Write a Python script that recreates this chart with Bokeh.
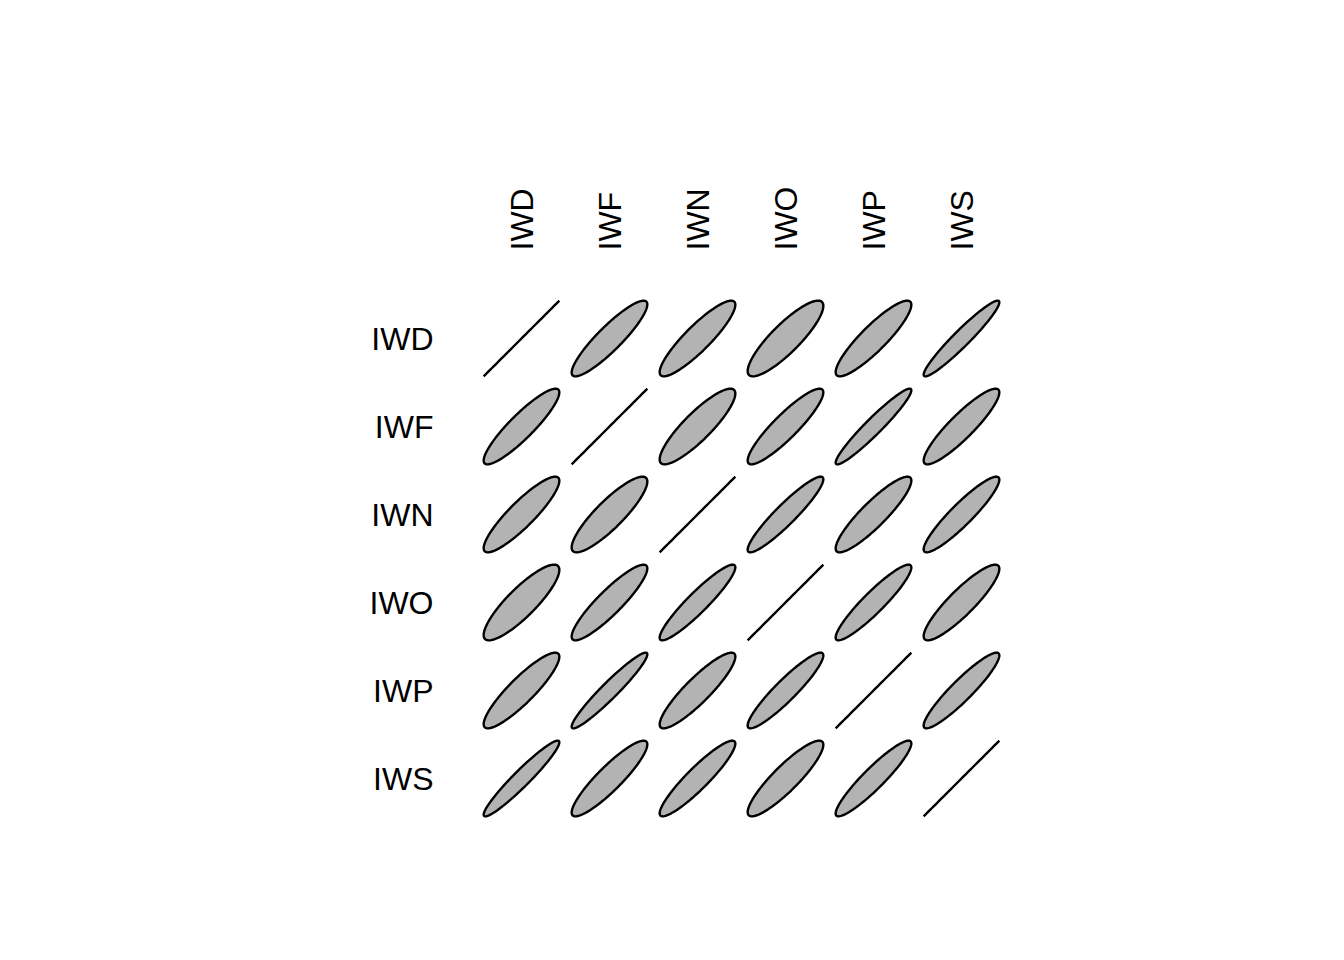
import numpy as np
from bokeh.plotting import figure
from bokeh.models import Range1d, ColumnDataSource
from bokeh.core.properties import value
from bokeh.embed import file_html
from bokeh.resources import INLINE

labels = ["IWD", "IWF", "IWN", "IWO", "IWP", "IWS"]
corr = [
    [1.000, 0.900, 0.890, 0.860, 0.890, 0.955],
    [0.900, 1.000, 0.870, 0.900, 0.955, 0.900],
    [0.890, 0.870, 1.000, 0.930, 0.895, 0.920],
    [0.860, 0.900, 0.930, 1.000, 0.925, 0.890],
    [0.890, 0.955, 0.895, 0.925, 1.000, 0.925],
    [0.955, 0.900, 0.920, 0.890, 0.925, 1.000],
]

n = len(labels)
T = 0.43
npts = 100

xs, ys = [], []
for i in range(n):
    for j in range(n):
        r = corr[i][j]
        d = np.arccos(min(max(r, -1.0), 1.0))
        a = np.linspace(0, 2 * np.pi, npts)
        ex = T * np.cos(a + d / 2) + (j + 1)
        ey = T * np.cos(a - d / 2) + (n - i)
        xs.append(list(ex))
        ys.append(list(ey))

unit = 88.0
p = figure(width=1344, height=960, output_backend="svg", toolbar_location=None,
           x_range=Range1d(-433 / unit, (1344 - 433) / unit),
           y_range=Range1d(-(960 - 866) / unit, 866 / unit),
           min_border=0, x_axis_location=None, y_axis_location=None)
p.grid.visible = False
p.outline_line_color = None
p.background_fill_color = "white"
p.border_fill_color = "white"

p.patches(xs=xs, ys=ys, fill_color="#B3B3B3", line_color="black", line_width=2.4)

row_src = ColumnDataSource(dict(x=[0] * n, y=[n - i for i in range(n)], t=labels))
p.text(x="x", y="y", text="t", source=row_src, text_align="right", text_baseline="middle",
       text_font=value("Liberation Sans"), text_font_size="32px", text_color="black")

col_src = ColumnDataSource(dict(x=[j + 1 for j in range(n)], y=[n + 1] * n, t=labels))
p.text(x="x", y="y", text="t", source=col_src, angle=np.pi / 2, text_align="left",
       text_baseline="middle", text_font=value("Liberation Sans"), text_font_size="32px",
       text_color="black")

open("out.html", "w").write(file_html(p, INLINE))
